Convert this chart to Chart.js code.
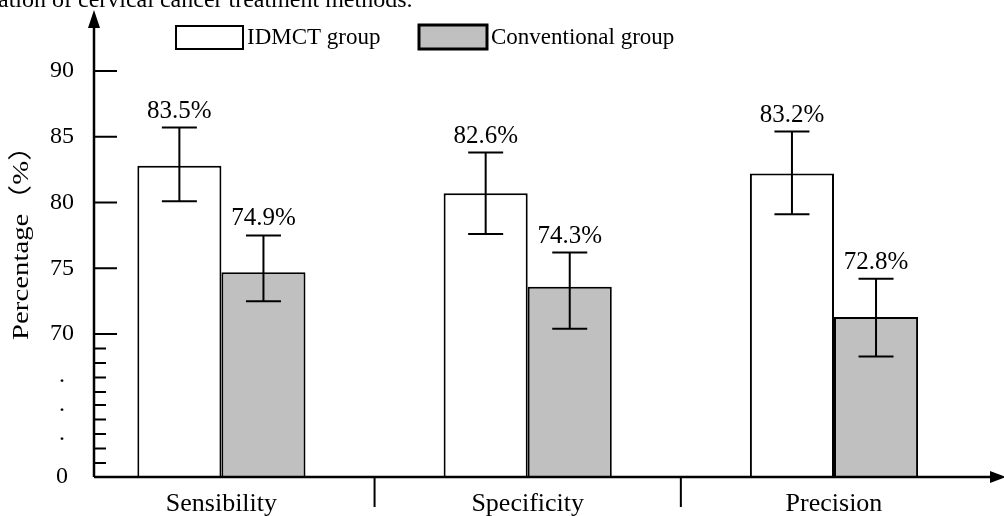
<!DOCTYPE html>
<html>
<head>
<meta charset="utf-8">
<script src="https://cdn.jsdelivr.net/npm/chart.js@4.4.0/dist/chart.umd.min.js"></script>
<style>
  html, body { margin: 0; padding: 0; background: #fff; }
  #wrap { width: 1004px; height: 516px; }
</style>
</head>
<body>
<div id="wrap"><canvas id="barChart" width="1004" height="516"></canvas></div>
<script>
const categories = ['Sensibility', 'Specificity', 'Precision'];
const seriesNames = ['IDMCT group', 'Conventional group'];
const idmctValues = [82.8, 80.7, 82.2];
const conventionalValues = [74.7, 73.6, 71.3];
const idmctErrLow = [80.1, 77.6, 79.1];
const idmctErrHigh = [85.7, 83.8, 85.4];
const convErrLow = [72.5, 70.4, 68.3];
const convErrHigh = [77.5, 76.2, 74.2];
const idmctLabels = ['83.5%', '82.6%', '83.2%'];
const conventionalLabels = ['74.9%', '74.3%', '72.8%'];
const yTickValues = [70, 75, 80, 85, 90];
const yBreakDots = [62.0, 64.2, 66.4];
const yMinorTicks = [68.9, 67.8, 66.7, 65.6, 64.6, 63.5, 62.4, 61.3, 60.2];
const yMin = 59.13;
const yMax = 93.27;
const xMin = -0.416;
const xMax = 2.542;
const dividers = [0.5, 1.5];
const yTitle = 'Percentage（%）';
const titleText = 'ation of cervical cancer treatment methods.';

const serif = '"Liberation Serif", "Times New Roman", "Noto Sans CJK SC", serif';
const grey = '#c0c0c0';

function yLabel(value) {
  if (Math.abs(value - yMin) < 0.01) return '0';
  if (yTickValues.includes(value)) return String(value);
  return '·';
}

const extrasPlugin = {
  id: 'extras',
  afterDatasetsDraw(chart) {
    const ctx = chart.ctx;
    const xs = chart.scales.x;
    const ys = chart.scales.y;
    const x0 = xs.getPixelForValue(xMin);
    const yb = ys.getPixelForValue(yMin);
    const yt = ys.getPixelForValue(yMax);
    const xr = xs.getPixelForValue(xMax);

    ctx.save();
    ctx.strokeStyle = '#000';
    ctx.fillStyle = '#000';

    // axes with arrows
    ctx.lineWidth = 2.5;
    ctx.beginPath();
    ctx.moveTo(x0, yb);
    ctx.lineTo(x0, yt);
    ctx.moveTo(x0, yb);
    ctx.lineTo(xr, yb);
    ctx.stroke();
    ctx.beginPath();
    ctx.moveTo(x0, yt - 18);
    ctx.lineTo(x0 - 6, yt);
    ctx.lineTo(x0 + 6, yt);
    ctx.closePath();
    ctx.fill();
    ctx.beginPath();
    ctx.moveTo(xr + 6, yb);
    ctx.lineTo(xr - 10, yb - 6);
    ctx.lineTo(xr - 10, yb + 6);
    ctx.closePath();
    ctx.fill();

    // tick marks inside the axis
    ctx.lineWidth = 2;
    ctx.beginPath();
    yTickValues.forEach(v => {
      const y = ys.getPixelForValue(v);
      ctx.moveTo(x0, y);
      ctx.lineTo(x0 + 23, y);
    });
    yMinorTicks.forEach(v => {
      const y = ys.getPixelForValue(v);
      ctx.moveTo(x0, y);
      ctx.lineTo(x0 + 12, y);
    });
    dividers.forEach(d => {
      const x = xs.getPixelForValue(d);
      ctx.moveTo(x, yb);
      ctx.lineTo(x, yb + 30);
    });
    ctx.stroke();

    // error bars and value labels
    ctx.font = '25px ' + serif;
    ctx.textAlign = 'center';
    ctx.textBaseline = 'alphabetic';
    chart.data.datasets.forEach((ds, di) => {
      const meta = chart.getDatasetMeta(di);
      meta.data.forEach((bar, i) => {
        const top = ys.getPixelForValue(ds.errHigh[i]);
        const bot = ys.getPixelForValue(ds.errLow[i]);
        ctx.beginPath();
        ctx.moveTo(bar.x, top);
        ctx.lineTo(bar.x, bot);
        ctx.moveTo(bar.x - 17.5, top);
        ctx.lineTo(bar.x + 17.5, top);
        ctx.moveTo(bar.x - 17.5, bot);
        ctx.lineTo(bar.x + 17.5, bot);
        ctx.stroke();
        ctx.fillText(ds.valueLabels[i], bar.x, top - 10);
      });
    });

    // legend
    ctx.font = '23px ' + serif;
    ctx.textAlign = 'left';
    ctx.textBaseline = 'middle';
    ctx.lineWidth = 2;
    ctx.fillStyle = '#fff';
    ctx.fillRect(176, 26, 67, 23);
    ctx.strokeRect(176, 26, 67, 23);
    ctx.lineWidth = 3;
    ctx.fillStyle = grey;
    ctx.fillRect(419, 25, 68, 24);
    ctx.strokeRect(419, 25, 68, 24);
    ctx.fillStyle = '#000';
    ctx.fillText(seriesNames[0], 247, 38);
    ctx.fillText(seriesNames[1], 491, 38);

    // y axis title, a little stretched along its length like the original
    ctx.save();
    ctx.translate(22, 236);
    ctx.rotate(-Math.PI / 2);
    ctx.scale(1.2, 1);
    ctx.font = '24px ' + serif;
    ctx.textAlign = 'center';
    ctx.textBaseline = 'middle';
    ctx.fillText(yTitle, 0, 0);
    ctx.restore();

    // clipped caption line at the top
    ctx.font = '24px ' + serif;
    ctx.textAlign = 'left';
    ctx.textBaseline = 'alphabetic';
    ctx.fillText(titleText, -2, 7);
    ctx.restore();
  }
};

const ctx = document.getElementById('barChart').getContext('2d');
new Chart(ctx, {
  type: 'bar',
  data: {
    datasets: [
      {
        label: seriesNames[0],
        data: idmctValues.map((v, i) => ({ x: i, y: v })),
        backgroundColor: '#ffffff',
        borderColor: '#000',
        borderWidth: 2,
        errLow: idmctErrLow,
        errHigh: idmctErrHigh,
        valueLabels: idmctLabels
      },
      {
        label: seriesNames[1],
        data: conventionalValues.map((v, i) => ({ x: i, y: v })),
        backgroundColor: grey,
        borderColor: '#000',
        borderWidth: 2,
        errLow: convErrLow,
        errHigh: convErrHigh,
        valueLabels: conventionalLabels
      }
    ]
  },
  options: {
    responsive: false,
    animation: false,
    layout: { padding: { top: 28, right: 4, left: 0, bottom: 0 } },
    datasets: { bar: { categoryPercentage: 0.549, barPercentage: 1 } },
    plugins: {
      legend: { display: false },
      tooltip: { enabled: false }
    },
    scales: {
      x: {
        type: 'linear',
        offset: false,
        min: xMin,
        max: xMax,
        grid: { display: false, drawTicks: false },
        border: { display: false },
        ticks: {
          color: '#000',
          font: { family: serif, size: 26 },
          padding: 12,
          autoSkip: false,
          maxRotation: 0,
          callback: v => categories[v] || ''
        },
        afterBuildTicks: s => { s.ticks = categories.map((c, i) => ({ value: i })); },
        afterFit: s => {
          s.height = 39;
          s.paddingLeft = 0;
          s.paddingRight = 0;
        }
      },
      y: {
        min: yMin,
        max: yMax,
        grid: { display: false, drawTicks: false },
        border: { display: false },
        ticks: {
          color: '#000',
          font: { family: serif, size: 24 },
          padding: 20,
          crossAlign: 'center',
          autoSkip: false,
          callback: v => yLabel(v)
        },
        afterBuildTicks: s => {
          s.ticks = [yMin, ...yBreakDots, ...yTickValues].map(v => ({ value: v }));
        },
        afterFit: s => {
          s.width = 94;
          s.paddingTop = 0;
          s.paddingBottom = 0;
        }
      }
    }
  },
  plugins: [extrasPlugin]
});
</script>
</body>
</html>
